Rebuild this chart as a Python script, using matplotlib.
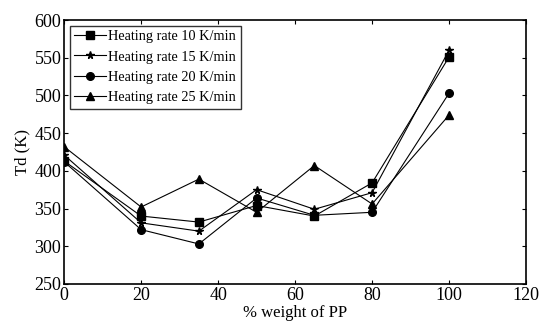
import numpy as np
import matplotlib.pyplot as plt

plt.rcParams['font.family'] = ['Liberation Serif', 'DejaVu Serif']

pp_weight = [0, 20, 35, 50, 65, 80, 100]
rate_10 = [413, 340, 332, 354, 340, 384, 551]
rate_15 = [421, 331, 320, 375, 349, 371, 560]
rate_20 = [412, 322, 303, 364, 341, 345, 503]
rate_25 = [432, 352, 389, 345, 407, 356, 474]

labels = ["Heating rate 10 K/min", "Heating rate 15 K/min",
          "Heating rate 20 K/min", "Heating rate 25 K/min"]

fig = plt.figure(figsize=(5.39, 3.23), dpi=100)
ax = fig.add_axes([0.119, 0.121, 0.857, 0.817])

ax.plot(pp_weight, rate_10, color="k", lw=0.8, marker="s", ms=5.5, label=labels[0])
ax.plot(pp_weight, rate_15, color="k", lw=0.8, marker="*", ms=5.5, label=labels[1])
ax.plot(pp_weight, rate_20, color="k", lw=0.8, marker="o", ms=5.5, label=labels[2])
ax.plot(pp_weight, rate_25, color="k", lw=0.8, marker="^", ms=5.5, label=labels[3])

ax.set_xlim(0, 120)
ax.set_ylim(250, 600)
ax.set_xticks(np.arange(0, 121, 20))
ax.set_yticks(np.arange(250, 601, 50))
ax.tick_params(direction="in", top=True, right=True, labelsize=13, length=3, pad=2)
for s in ax.spines.values():
    s.set_linewidth(1.2)

ax.set_xlabel("% weight of PP", fontsize=12, labelpad=1)
ax.set_ylabel("Td (K)", fontsize=12, labelpad=3)

leg = ax.legend(loc="upper left", fontsize=10.3, frameon=True, fancybox=False,
                edgecolor="k", borderaxespad=0.4, handlelength=2.2,
                labelspacing=0.52, borderpad=0.3, handletextpad=0.2)
leg.get_frame().set_linewidth(1.0)

fig.savefig("out.png", dpi=100)
